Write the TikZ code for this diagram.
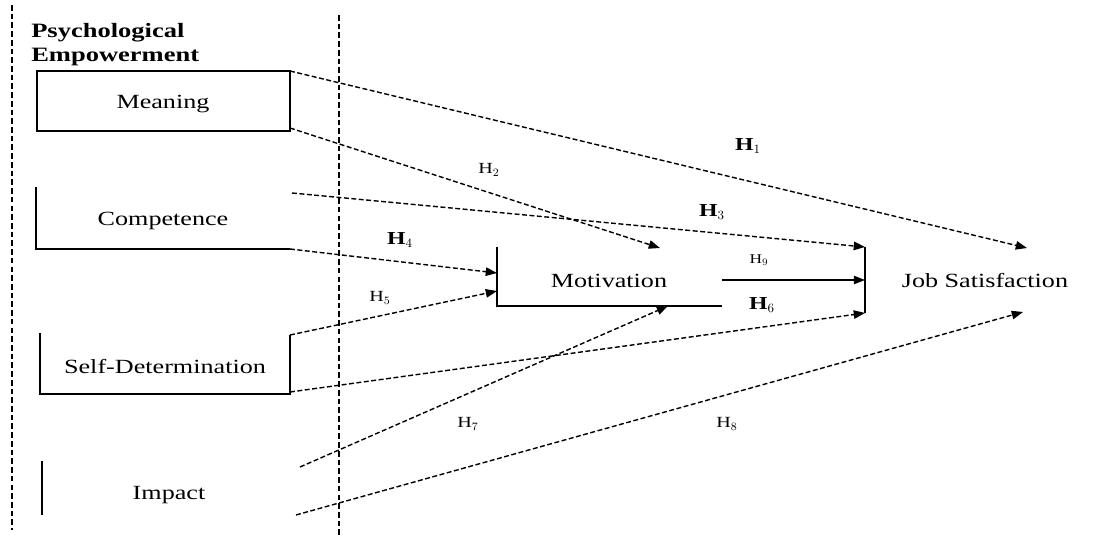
\documentclass[tikz,border=0pt]{standalone}
\usepackage{fontspec}
\setmainfont{Liberation Serif}[FakeStretch=1.3]
\usetikzlibrary{arrows.meta}
\begin{document}
\begin{tikzpicture}[x=0.025cm,y=-0.025cm,
  sep/.style={dash pattern=on 4pt off 2.2pt, line width=0.8pt},
  dline/.style={dash pattern=on 3.5pt off 1.8pt, line width=1pt},
  arr/.style={dline,-{Triangle[length=8pt,width=6pt]}},
  sarr/.style={line width=1pt,-{Triangle[length=8pt,width=6pt]}},
  frame/.style={line width=1.3pt},
  lab/.style={inner sep=0pt,font=\fontsize{14.3}{16}\selectfont},
  head/.style={inner sep=0pt,anchor=west,font=\fontsize{14.5}{16}\selectfont\bfseries},
  hb/.style={inner sep=0pt,font=\fontsize{13}{15}\selectfont\bfseries},
  hs/.style={inner sep=0pt,font=\fontsize{11}{13}\selectfont},
  hxs/.style={inner sep=0pt,font=\fontsize{9.5}{11}\selectfont}]
\useasboundingbox (0,0) rectangle (1100,540);
% separators
\coordinate (sa1) at (12,5);   \coordinate (sa2) at (12,530);
\coordinate (sb1) at (339,15); \coordinate (sb2) at (339,535);
\draw[sep] (sa1) -- (sa2);
\draw[sep] (sb1) -- (sb2);
% heading
\node[head] (pe1) at (31,33) {Psychological};
\node[head] (pe2) at (31,57) {Empowerment};
% Meaning
\coordinate (m1) at (290,71); \coordinate (m2) at (290,128);
\draw[frame] (37,71) rectangle (290,131);
\node[lab] (meaning) at (163,104) {Meaning};
% Competence
\coordinate (c1) at (292,193); \coordinate (c2) at (290,249);
\draw[frame] (36,187) -- (36,249) -- (290,249);
\node[lab] (competence) at (163,221) {Competence};
% Self-Determination
\coordinate (s1) at (290,335); \coordinate (s2) at (290,392);
\draw[frame] (40,333) -- (40,394) -- (290,394) -- (290,335);
\node[lab] (selfdet) at (165,367) {Self-Determination};
% Impact
\coordinate (i1) at (300,467); \coordinate (i2) at (296,515);
\draw[frame] (42,461) -- (42,515);
\node[lab] (impact) at (169,495) {Impact};
% Motivation
\draw[frame] (497,247) -- (497,306) -- (722,306);
\node[lab] (motivation) at (609,281) {Motivation};
\coordinate (mo2) at (660,248); \coordinate (mo4) at (497,273);
\coordinate (mo5) at (497,291); \coordinate (mo7) at (668,306);
\coordinate (mo9) at (722,280);
% Job Satisfaction
\draw[frame] (865,247) -- (865,313);
\node[lab] (job) at (985,281) {Job Satisfaction};
\coordinate (j1) at (1027,248); \coordinate (j3) at (865,247);
\coordinate (j6) at (865,313); \coordinate (j8) at (1023,312);
\coordinate (j9) at (865,280);
% connectors
\draw[arr] (m1) -- (j1);
\draw[arr] (m2) -- (mo2);
\draw[arr] (c1) -- (j3);
\draw[arr] (c2) -- (mo4);
\draw[arr] (s1) -- (mo5);
\draw[arr] (s2) -- (j6);
\draw[arr] (i1) -- (mo7);
\draw[arr] (i2) -- (j8);
\draw[sarr] (mo9) -- (j9);
% labels
\node[hb] (h1) at (748,146) {H$_1$};
\node[hs] (h2) at (489,170) {H$_2$};
\node[hb] (h3) at (712,212) {H$_3$};
\node[hb] (h4) at (400,240) {H$_4$};
\node[hs] (h5) at (380,298) {H$_5$};
\node[hb] (h6) at (762,305) {H$_6$};
\node[hs] (h7) at (468,424) {H$_7$};
\node[hs] (h8) at (727,424) {H$_8$};
\node[hxs] (h9) at (759,260) {H$_9$};
\end{tikzpicture}
\end{document}
